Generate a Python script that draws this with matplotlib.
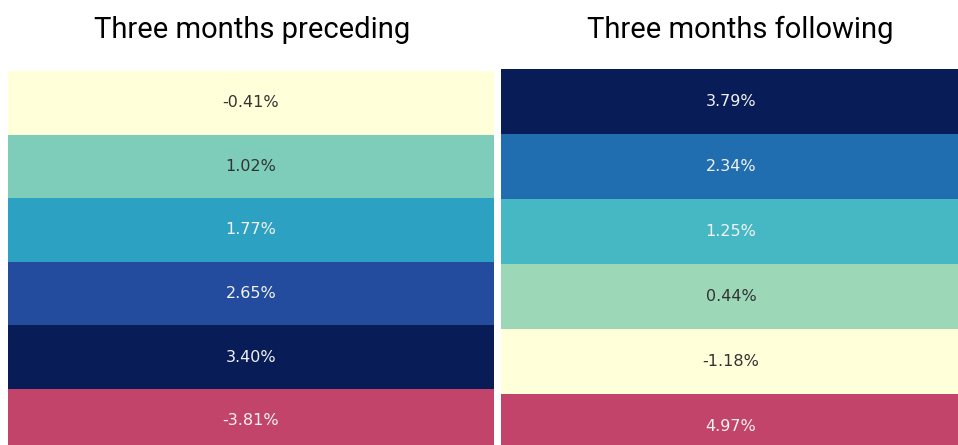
import numpy as np
import matplotlib
matplotlib.use("Agg")
import matplotlib.pyplot as plt
from matplotlib.colors import Normalize

titles = ["Three months preceding", "Three months following"]
left_values = [-0.41, 1.02, 1.77, 2.65, 3.40, -3.81]
right_values = [3.79, 2.34, 1.25, 0.44, -1.18, 4.97]
highlight_color = "#C3446A"

W, H = 958, 445
fig = plt.figure(figsize=(W / 100, H / 100), dpi=100)

def px_axes(x0, top, width, row_h, n):
    h = row_h * n
    bottom = H - top - h
    return fig.add_axes([x0 / W, bottom / H, width / W, h / H])

def rel_lum(c):
    rgb = np.array(c[:3])
    rgb = np.where(rgb <= .03928, rgb / 12.92, ((rgb + .055) / 1.055) ** 2.4)
    return rgb.dot([.2126, .7152, .0722])

panels = [
    (left_values, px_axes(8, 71, 486, 63.6, 6), 252),
    (right_values, px_axes(501, 69, 460, 65, 6), 740),
]

cmap = plt.get_cmap("YlGnBu")
for (vals, ax, tx), title in zip(panels, titles):
    arr = np.array(vals, dtype=float)
    main = arr[:-1]
    norm = Normalize(vmin=main.min(), vmax=main.max())
    n = len(vals)
    for i, v in enumerate(vals):
        if i == n - 1:
            c = highlight_color
            tc = "#f2f2f2"
        else:
            c = cmap(norm(v))
            tc = "#333333" if rel_lum(c) > 0.408 else "#f2f2f2"
        ax.axhspan(i, i + 1, color=c, lw=0)
        ax.text(0.5, i + 0.5, f"{v:.2f}%", ha="center", va="center",
                color=tc, fontsize=11.5, family="DejaVu Sans")
    ax.set_xlim(0, 1)
    ax.set_ylim(n, 0)
    ax.axis("off")
    fig.text(tx / W, 1 - 30 / H, title, ha="center", va="center",
             fontsize=21, family=["Roboto", "Liberation Sans"], fontweight="normal",
             color="black")

fig.savefig("out.png", dpi=100)
